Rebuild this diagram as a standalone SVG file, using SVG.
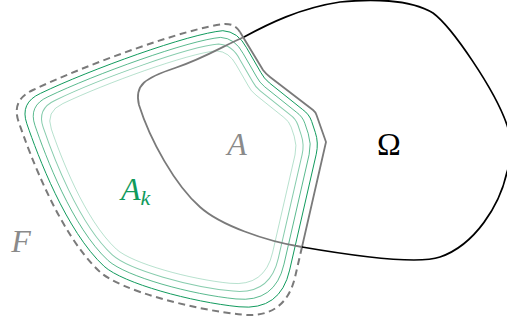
<svg xmlns="http://www.w3.org/2000/svg" width="507" height="327" viewBox="0 0 507 327">
<style>
  .omega{fill:none;stroke:#000;stroke-width:1.7;stroke-linejoin:round}
  .gray{fill:none;stroke:#7a7a7a;stroke-width:1.8;stroke-linejoin:round}
  .fdash{fill:none;stroke:#7a7a7a;stroke-width:2;stroke-dasharray:7 4.5}
  .ak{fill:none;stroke:#109a5c}
  .lbl{font-family:"Liberation Serif","DejaVu Serif",serif;font-size:32px}
  .it{font-style:italic}
</style>
<defs>
  <path id="G" d="M225,24 C190,27 85,65 33,90 Q11,100 18.7,122 C30,155 60,235 100,272 C120,290 192,309.6 242,314.6 Q285.5,319 295.3,276 L323.3,154 Q326,142 322.3,131 L318.5,119.5 Q316,112 309,107 L274,79 Q268,74 265,68 L250,42 Q241,25 225,24 Z"/>
</defs>
<rect width="507" height="327" fill="#fff"/>
<g id="Ak">
  <use href="#G" class="ak" style="stroke-width:1.05" transform="translate(182 158) scale(0.95) translate(-182 -158)"/>
  <use href="#G" class="ak" style="stroke-width:1.1;stroke-opacity:0.7" transform="translate(182 158) scale(0.9) translate(-182 -158)"/>
  <use href="#G" class="ak" style="stroke-width:1.18;stroke-opacity:0.5" transform="translate(182 158) scale(0.85) translate(-182 -158)"/>
  <use href="#G" class="ak" style="stroke-width:1.25;stroke-opacity:0.3" transform="translate(182 158) scale(0.8) translate(-182 -158)"/>
</g>
<g id="F">
  <path class="fdash" d="M240,32 C236,26 232,24 225,24 C190,27 85,65 33,90 Q11,100 18.7,122 C30,155 60,235 100,272 C120,290 192,309.6 242,314.6 Q285.5,319 295.3,276 L302,247"/>
</g>
<g id="A">
  <path class="gray" d="M240,32 L263,70 Q266,74 270,77 L313,110 Q315.5,112 316.5,115 L326,142 L302,247"/>
  <path class="gray" d="M302,247 C265,241 220,225 200,207 C175,185 150,140 139,105 C134,85 145,78 175,68 C205,58 225,45 244,37"/>
</g>
<g id="Omega">
  <path class="omega" d="M244,37 C268,24 300,8 340,2 C370,-1 410,-1 433,13 C452,27 495,90 507,125 C512,140 512,158 507,172 C500,205 475,245 440,257 C420,264 360,257 302,247"/>
</g>
<g id="labels">
  <text class="lbl it" x="237" y="155" text-anchor="middle" fill="#8a8a8a">A</text>
  <text class="lbl" x="389" y="155" text-anchor="middle" fill="#000">Ω</text>
  <text class="lbl it" x="21" y="252" text-anchor="middle" fill="#8a8a8a">F</text>
  <text class="lbl it" x="121" y="200" fill="#109a5c">A<tspan font-size="22" dy="5">k</tspan></text>
</g>
</svg>
